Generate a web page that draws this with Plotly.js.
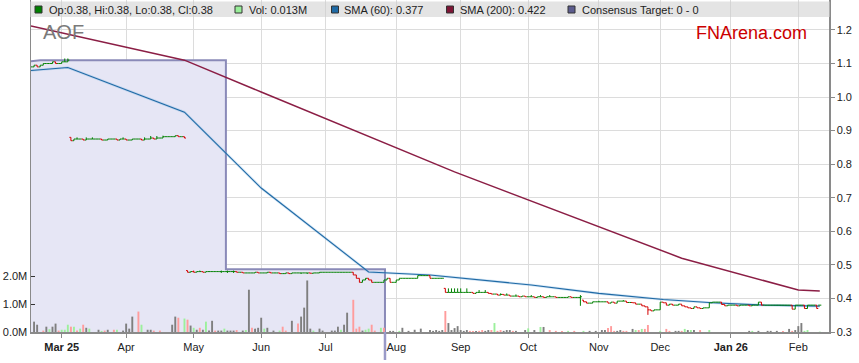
<!DOCTYPE html>
<html>
<head>
<meta charset="utf-8">
<script src="https://cdn.plot.ly/plotly-3.0.1.min.js"></script>
<style>html,body{margin:0;padding:0;background:#fff;}#chart{width:859px;height:363px;}</style>
</head>
<body>
<div id="chart"></div>
<script>
// ---------- DATA ----------
const firstTradingDay = '2025-02-17';
const tradingDayCount = 258;

// daily close (one value per trading day, from 2025-02-17)
const priceClose = [
 1.09,1.095,1.09,1.095,1.10,1.10,1.10,1.105,1.10,1.10,
 1.105,1.105,1.11,0.87,0.875,0.875,0.875,0.872,0.875,0.875,
 0.875,0.875,0.875,0.872,0.872,0.875,0.875,0.875,0.872,0.875,
 0.875,0.872,0.872,0.875,0.875,0.875,0.872,0.875,0.875,0.878,
 0.875,0.878,0.878,0.882,0.882,0.882,0.882,0.885,0.882,0.882,
 0.878,0.478,0.48,0.478,0.48,0.48,0.478,0.48,0.48,0.48,
 0.48,0.48,0.48,0.48,0.48,0.48,0.48,0.478,0.478,0.476,
 0.476,0.476,0.476,0.478,0.476,0.476,0.476,0.478,0.476,0.476,
 0.476,0.474,0.474,0.476,0.474,0.476,0.476,0.476,0.476,0.476,
 0.476,0.475,0.476,0.476,0.478,0.478,0.478,0.478,0.478,0.478,
 0.478,0.478,0.478,0.478,0.478,0.47,0.46,0.448,0.455,0.46,
 0.455,0.448,0.448,0.448,0.448,0.455,0.46,0.448,0.448,0.455,
 0.46,0.46,0.46,0.46,0.46,0.46,0.468,0.468,0.468,0.468,
 0.46,0.46,0.46,0.46,0.46,0.418,0.418,0.418,0.418,0.418,
 0.418,0.418,0.418,0.418,0.415,0.418,0.418,0.418,0.418,0.415,
 0.413,0.413,0.41,0.412,0.41,0.41,0.407,0.407,0.407,0.405,
 0.407,0.405,0.405,0.405,0.403,0.405,0.405,0.403,0.405,0.405,
 0.405,0.403,0.403,0.403,0.403,0.405,0.403,0.403,0.403,0.405,
 0.39,0.386,0.386,0.39,0.39,0.39,0.39,0.39,0.386,0.389,
 0.386,0.392,0.392,0.392,0.388,0.388,0.387,0.383,0.383,0.378,
 0.375,0.366,0.363,0.366,0.366,0.389,0.387,0.38,0.383,0.38,
 0.38,0.383,0.378,0.375,0.372,0.37,0.375,0.372,0.37,0.372,
 0.372,0.387,0.389,0.389,0.389,0.382,0.378,0.38,0.38,0.38,
 0.378,0.38,0.38,0.38,0.378,0.38,0.38,0.389,0.38,0.38,
 0.38,0.38,0.38,0.38,0.38,0.38,0.38,0.38,0.368,0.38,
 0.38,0.38,0.37,0.38,0.38,0.38,0.37,0.38
];
// daily open
const priceOpen = [
 1.09,1.09,1.095,1.09,1.095,1.10,1.10,1.10,1.105,1.10,
 1.10,1.105,1.105,0.88,0.87,0.875,0.875,0.875,0.872,0.875,
 0.875,0.875,0.875,0.875,0.872,0.872,0.875,0.875,0.875,0.872,
 0.875,0.875,0.872,0.872,0.875,0.875,0.875,0.872,0.875,0.875,
 0.878,0.875,0.878,0.878,0.882,0.882,0.882,0.882,0.885,0.882,
 0.882,0.483,0.478,0.48,0.478,0.48,0.48,0.478,0.48,0.48,
 0.48,0.48,0.48,0.48,0.48,0.48,0.48,0.48,0.478,0.478,
 0.476,0.476,0.476,0.476,0.478,0.476,0.476,0.476,0.478,0.476,
 0.476,0.476,0.474,0.474,0.476,0.474,0.476,0.476,0.476,0.476,
 0.476,0.476,0.475,0.476,0.476,0.478,0.478,0.478,0.478,0.478,
 0.478,0.478,0.478,0.478,0.478,0.478,0.47,0.46,0.448,0.455,
 0.46,0.455,0.448,0.448,0.448,0.448,0.455,0.46,0.448,0.448,
 0.455,0.46,0.46,0.46,0.46,0.46,0.46,0.468,0.468,0.468,
 0.468,0.46,0.46,0.46,0.46,0.43,0.418,0.418,0.418,0.418,
 0.418,0.418,0.418,0.418,0.418,0.415,0.418,0.418,0.418,0.418,
 0.415,0.413,0.413,0.41,0.412,0.41,0.41,0.407,0.407,0.407,
 0.405,0.407,0.405,0.405,0.405,0.403,0.405,0.405,0.403,0.405,
 0.405,0.405,0.403,0.403,0.403,0.403,0.405,0.403,0.403,0.403,
 0.395,0.39,0.386,0.386,0.39,0.39,0.39,0.39,0.39,0.386,
 0.389,0.386,0.392,0.392,0.392,0.388,0.388,0.387,0.383,0.383,
 0.378,0.375,0.366,0.363,0.366,0.366,0.389,0.387,0.38,0.383,
 0.38,0.38,0.383,0.378,0.375,0.372,0.37,0.375,0.372,0.37,
 0.372,0.372,0.387,0.389,0.389,0.389,0.382,0.378,0.38,0.38,
 0.38,0.378,0.38,0.38,0.38,0.378,0.38,0.38,0.389,0.38,
 0.38,0.38,0.38,0.38,0.38,0.38,0.38,0.38,0.38,0.368,
 0.38,0.38,0.38,0.37,0.38,0.38,0.38,0.38
];
// intraday extremes beyond open/close: [trading-day index (0 = 2025-02-17), value]
const highSpikes = [[11,1.115],[12,1.115],[15,0.88],[18,0.88],[20,0.88],[30,0.88],[37,0.88],[39,0.884],[41,0.884],[43,0.885],
 [53,0.483],[55,0.483],[62,0.483],[64,0.483],[66,0.483],[136,0.43],[137,0.43],[138,0.43],[139,0.43],[140,0.43],[142,0.43],
 [146,0.425],[148,0.425],[153,0.415],[155,0.415],[158,0.412],[163,0.41],[166,0.41],[169,0.41],[179,0.41],[185,0.393],[193,0.395]];
const lowSpikes = [[62,0.476],[64,0.476],[66,0.476],[88,0.473],[90,0.473],[179,0.378],[201,0.351]];

// volume bars: trading-day index (0 = 2025-02-17), millions of shares, direction (n flat, u up, d down)
const volDay = [1,2,4,5,6,7,8,9,10,11,12,13,14,15,16,17,18,19,22,23,24,25,27,28,30,31,32,33,35,36,38,39,40,42,
 46,47,48,50,51,52,53,54,55,56,57,58,59,60,61,62,63,64,65,66,67,69,70,71,72,73,74,75,76,77,79,81,82,83,85,87,88,89,90,91,92,94,95,
 98,99,100,101,102,103,105,106,107,108,109,110,111,112,114,115,117,118,120,121,123,125,127,
 130,131,132,133,134,135,136,137,138,139,140,141,142,143,144,145,146,147,148,149,150,151,152,153,154,155,156,157,158,161,162,
 164,166,167,169,171,173,175,177,180,182,184,186,187,188,189,190,191,192,193,194,196,197,198,199,200,201,205,207,208,
 210,211,212,213,214,215,216,218,221,234,235,237,240,241,243,245,247,248,249,250,251,252,253,257];
const volM = [0.37,0.26,0.05,0.19,0.10,0.19,0.30,0.05,0.08,0.08,0.26,0.19,0.19,0.05,0.12,0.26,0.15,0.12,0.08,0.04,0.05,0.08,0.08,0.08,0.05,0.30,0.12,0.55,0.73,0.26,0.08,0.08,0.05,0.05,
 0.26,0.55,0.51,0.48,0.44,0.23,0.15,0.08,0.15,0.08,0.37,0.05,0.40,0.05,0.05,0.05,0.12,0.05,0.05,0.05,0.07,0.05,0.07,1.51,0.15,0.12,0.15,0.51,0.12,0.15,0.05,0.05,0.19,0.05,0.40,0.30,0.55,0.87,1.84,
 0.12,0.05,0.12,0.05,0.05,0.05,0.19,0.08,0.26,0.69,1.15,0.12,0.19,0.05,0.08,0.12,0.26,0.05,0.15,0.15,0.04,0.04,0.04,0.15,0.04,0.08,0.12,
 0.07,0.04,0.07,0.04,0.07,0.75,0.32,0.07,0.14,0.21,0.07,0.04,0.07,0.04,0.04,0.04,0.04,0.07,0.04,0.07,0.07,0.32,0.04,0.07,0.04,0.07,0.07,0.04,0.04,0.07,0.13,
 0.07,0.18,0.18,0.07,0.04,0.04,0.04,0.04,0.04,0.04,0.04,0.07,0.07,0.14,0.21,0.04,0.04,0.07,0.04,0.04,0.11,0.07,0.07,0.11,0.11,0.25,0.04,0.11,0.04,
 0.04,0.04,0.04,0.11,0.07,0.07,0.07,0.07,0.07,0.04,0.04,0.04,0.04,0.04,0.04,0.04,0.11,0.04,0.07,0.21,0.32,0.04,0.07,0.013];
const volDir = ['n','n','d','n','u','n','n','d','u','u','u','d','u','d','u','d','n','u','n','u','d','n','d','u','n','n','n','n','d','u','n','n','d','d',
 'n','n','d','u','d','n','u','n','d','n','u','n','n','d','n','n','u','n','n','n','d','n','u','n','d','n','n','n','u','n','n','u','d','d','n','d','n','n','n',
 'n','u','n','n','n','n','n','u','n','n','d','d','d','n','u','u','d','d','u','d','n','n','u','n','n','n','n',
 'n','n','n','n','n','d','n','n','n','n','n','n','n','d','d','n','d','d','n','n','d','u','d','d','n','n','n','d','n','n','u',
 'n','u','n','d','d','d','u','d','u','n','n','n','n','d','d','d','n','n','d','d','n','u','d','u','d','d','u','d','d',
 'n','n','d','u','n','u','n','d','u','n','u','n','n','n','n','d','n','d','n','n','n','u','u','u'];

// moving averages
const sma60Dates = ['2025-02-17','2025-03-05','2025-04-28','2025-06-02','2025-07-21','2025-08-18','2025-10-02','2025-11-03','2025-12-02','2025-12-24','2026-01-16','2026-02-11'];
const sma60Vals  = [1.079,1.088,0.955,0.729,0.479,0.47,0.44,0.415,0.397,0.387,0.38,0.377];
const sma200Dates = ['2025-02-17','2025-04-28','2025-06-02','2025-08-28','2025-12-10','2026-02-02','2026-02-11'];
const sma200Vals  = [1.212,1.110,1.015,0.777,0.52,0.425,0.422];

// consensus target (step area)
const consDates = ['2025-02-14','2025-02-20','2025-05-15 12:00','2025-05-15 12:00','2025-07-28 08:00','2025-07-28 08:00'];
const consVals  = [1.104,1.11,1.11,0.487,0.487,0.2];

// axis ticks
const monthTickDates = ['2025-03-03','2025-04-01','2025-05-01','2025-06-02','2025-07-01','2025-08-01','2025-09-01','2025-10-01','2025-11-03','2025-12-01','2026-01-01','2026-02-02'];
const monthTickText  = ['<b>Mar 25</b>','Apr','May','Jun','Jul','Aug','Sep','Oct','Nov','Dec','<b>Jan 26</b>','Feb'];
const volTickVals = [0,1,2];
const volTickText = ['0.0M','1.0M','2.0M'];

// legend texts
const legendItems = [
  {text:'Op:0.38, Hi:0.38, Lo:0.38, Cl:0.38', color:'#008000'},
  {text:'Vol: 0.013M', color:'#99ee99'},
  {text:'SMA (60): 0.377', color:'#1f6aa5'},
  {text:'SMA (200): 0.422', color:'#7d1535'},
  {text:'Consensus Target: 0 - 0', color:'#5c5c8e'}
];

// ---------- BUILD ----------
function tradingDays(start, n) {
  const out = []; let t = Date.parse(start + 'T00:00:00Z');
  while (out.length < n) {
    const d = new Date(t); const wd = d.getUTCDay();
    if (wd !== 0 && wd !== 6) out.push(d.toISOString().slice(0, 10));
    t += 86400000;
  }
  return out;
}
const days = tradingDays(firstTradingDay, tradingDayCount);
const hiExtra = {}; highSpikes.forEach(([i, v]) => hiExtra[i] = v);
const loExtra = {}; lowSpikes.forEach(([i, v]) => loExtra[i] = v);
const priceHigh = priceClose.map((c, i) => Math.max(c, priceOpen[i], hiExtra[i] ?? -Infinity));
const priceLow  = priceClose.map((c, i) => Math.min(c, priceOpen[i], loExtra[i] ?? Infinity));

const dirColor = {n:'#7f7f7f', u:'#9cf09c', d:'#ff9c9c'};
const FONT = 'Liberation Sans, Arial, sans-serif';
const DAY = 86400000;
const UPC = '#008000', DNC = '#d40000';

function ohlcSubset(pick, color) {
  const idx = priceClose.map((c, i) => i).filter(i => pick(priceOpen[i], priceClose[i]));
  return {
    type:'ohlc', x:idx.map(i => days[i]),
    open:idx.map(i => priceOpen[i]), high:idx.map(i => priceHigh[i]),
    low:idx.map(i => priceLow[i]), close:idx.map(i => priceClose[i]),
    increasing:{line:{color:color, width:1}}, decreasing:{line:{color:color, width:1}},
    tickwidth:0.5, hoverinfo:'skip', xaxis:'x', yaxis:'y3'
  };
}

const traces = [
  { // consensus target area
    type:'scatter', mode:'lines', x:consDates, y:consVals, fill:'tozeroy',
    fillcolor:'#e6e6f5', line:{color:'#8a8ab8', width:2, shape:'linear'},
    hoverinfo:'skip', xaxis:'x', yaxis:'y'
  },
  { // SMA 200
    type:'scatter', mode:'lines', x:sma200Dates, y:sma200Vals,
    line:{color:'#8b1e45', width:1.5}, hoverinfo:'skip'
  },
  { // SMA 60 halo
    type:'scatter', mode:'lines', x:sma60Dates, y:sma60Vals,
    line:{color:'rgba(130,180,225,0.35)', width:2.6}, hoverinfo:'skip'
  },
  { // SMA 60
    type:'scatter', mode:'lines', x:sma60Dates, y:sma60Vals,
    line:{color:'#1f6aa5', width:1.1}, hoverinfo:'skip'
  },
  { // volume
    type:'bar', x:volDay.map(i => days[i]), y:volM.map(v => v * 1e6),
    marker:{color:volDir.map(d => dirColor[d]), line:{width:0}},
    width:0.62 * DAY, hoverinfo:'skip', xaxis:'x', yaxis:'y2'
  },
  ohlcSubset((o, c) => c >= o, UPC),
  ohlcSubset((o, c) => c < o, DNC)
];

// plot area geometry in paper coords
const L = 31, R = 829, T = 0, B = 332;
const px = x => (x - L) / (R - L);
const py = y => (B - y) / (B - T);
const priceRange = [0.3, 0.3 + (B - T) / 335.6 * 0.1 * 10];

const shapes = [
  {type:'line', xref:'x', yref:'paper', x0:consDates[5], x1:consDates[5], y0:0, y1:py(360),
   line:{color:'#9a9ac8', width:2.5}, layer:'above'},
  {type:'rect', xref:'paper', yref:'paper', x0:px(30), x1:px(830), y0:py(17), y1:py(1.5),
   fillcolor:'rgba(205,205,205,0.55)', line:{width:0}, layer:'above'}
];
const annotations = [];
const legendX = [[35, 46.5], [235, 247], [331.5, 342], [446.5, 458], [568, 580]];
legendItems.forEach((it, k) => {
  const [sx, tx] = legendX[k];
  shapes.push({type:'rect', xref:'paper', yref:'paper', x0:px(sx), x1:px(sx + 7), y0:py(13), y1:py(6),
    fillcolor:it.color, line:{color:'#333', width:1}, layer:'above'});
  annotations.push({xref:'paper', yref:'paper', x:px(tx), y:py(9.8), xanchor:'left', yanchor:'middle',
    text:it.text, showarrow:false, font:{family:FONT, size:11, color:'#222'}});
});
annotations.push({xref:'paper', yref:'paper', x:px(41), y:py(32), xanchor:'left', yanchor:'middle',
  text:'AOF', showarrow:false, font:{family:FONT, size:20, color:'#7a7a7a'}});
annotations.push({xref:'paper', yref:'paper', x:px(809), y:py(33), xanchor:'right', yanchor:'middle',
  text:'FNArena.com', showarrow:false, font:{family:FONT, size:18, color:'#cc0000'}});

const layout = {
  width:859, height:363,
  margin:{l:L, r:859 - R, t:T, b:363 - B, pad:0},
  paper_bgcolor:'#ffffff', plot_bgcolor:'#ffffff',
  showlegend:false, dragmode:false,
  font:{family:FONT, size:11, color:'#222'},
  xaxis:{
    type:'date', range:['2025-02-17', '2026-02-16'],
    rangebreaks:[{bounds:['sat','mon']}],
    rangeslider:{visible:false},
    tickmode:'array', tickvals:monthTickDates, ticktext:monthTickText,
    showgrid:true, gridcolor:'#dcdcdc', gridwidth:1,
    showline:true, linecolor:'#8a8a8a', linewidth:1.5,
    ticks:'outside', ticklen:4, tickcolor:'#8a8a8a',
    tickfont:{family:FONT, size:11, color:'#222'},
    zeroline:false, fixedrange:true
  },
  yaxis:{
    side:'right', range:priceRange,
    tickmode:'linear', tick0:0.3, dtick:0.1, tickformat:'.1f',
    showgrid:true, gridcolor:'#dcdcdc', gridwidth:1,
    showline:true, linecolor:'#8a8a8a', linewidth:1.5,
    ticks:'outside', ticklen:4, tickcolor:'#8a8a8a',
    tickfont:{family:FONT, size:11, color:'#222'},
    zeroline:false, fixedrange:true
  },
  yaxis2:{
    side:'left', overlaying:'y', range:[0, (B - T) / 28 * 1e6],
    tickmode:'array', tickvals:volTickVals.map(v => v * 1e6), ticktext:volTickText,
    showgrid:false, showline:true, linecolor:'#8a8a8a', linewidth:1.5,
    ticks:'inside', ticklen:4, tickcolor:'#333',
    tickfont:{family:FONT, size:11, color:'#222'},
    zeroline:false, fixedrange:true
  },
  yaxis3:{
    overlaying:'y', side:'right', range:priceRange, visible:false,
    showgrid:false, zeroline:false, fixedrange:true
  },
  shapes:shapes, annotations:annotations
};

Plotly.newPlot('chart', traces, layout, {staticPlot:true, displayModeBar:false});
</script>
</body>
</html>
